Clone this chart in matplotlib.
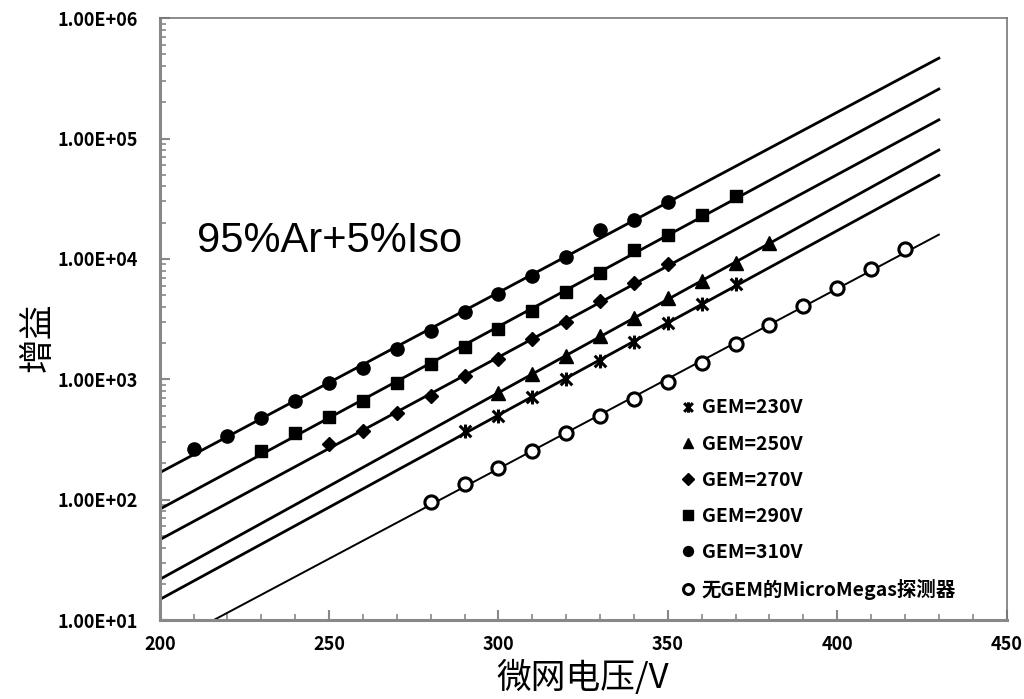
import numpy as np
import matplotlib.pyplot as plt
from matplotlib.path import Path
from matplotlib.ticker import FixedLocator, NullFormatter

plt.rcParams['font.family'] = ['Noto Sans CJK SC', 'DejaVu Sans']

# Gain vs. micromesh voltage, one series per GEM voltage
v_230 = [290, 300, 310, 320, 330, 340, 350, 360, 370]
g_230 = [370, 498, 716, 998, 1425, 2049, 2913, 4213, 6140]

v_250 = [300, 310, 320, 330, 340, 350, 360, 370, 380]
g_250 = [773, 1105, 1559, 2285, 3206, 4753, 6540, 9290, 13500]

v_270 = [250, 260, 270, 280, 290, 300, 310, 320, 330, 340, 350]
g_270 = [290, 373, 527, 730, 1063, 1463, 2145, 3003, 4487, 6255, 9000]

v_290 = [230, 240, 250, 260, 270, 280, 290, 300, 310, 320, 330, 340, 350, 360, 370]
g_290 = [253, 359, 482, 663, 935, 1330, 1862, 2626, 3706, 5330, 7570,
         11800, 15800, 23100, 33200]

v_310 = [210, 220, 230, 240, 250, 260, 270, 280, 290, 300, 310, 320, 330, 340, 350]
g_310 = [263, 337, 473, 663, 935, 1247, 1771, 2529, 3594, 5100, 7200,
         10300, 17300, 21000, 29800]

v_mm = [280, 290, 300, 310, 320, 330, 340, 350, 360, 370, 380, 390, 400, 410, 420]
g_mm = [96, 135, 182, 253, 356, 498, 681, 953, 1371, 1950, 2820, 4055,
        5720, 8230, 12000]

labels = ['GEM=230V', 'GEM=250V', 'GEM=270V', 'GEM=290V', 'GEM=310V',
          '无GEM的MicroMegas探测器']

# asterisk marker: X with a vertical bar
star = Path([(-1, -1), (1, 1), (-1, 1), (1, -1), (0, -1.2), (0, 1.2)],
            [Path.MOVETO, Path.LINETO, Path.MOVETO, Path.LINETO,
             Path.MOVETO, Path.LINETO])

series = [
    (v_230, g_230, dict(marker=star, ms=10, mew=2.2, color='black')),
    (v_250, g_250, dict(marker='^', ms=9.5, color='black')),
    (v_270, g_270, dict(marker='D', ms=7.5, color='black')),
    (v_290, g_290, dict(marker='s', ms=9, color='black')),
    (v_310, g_310, dict(marker='o', ms=9.5, color='black')),
    (v_mm, g_mm, dict(marker='o', ms=9.5, mfc='white', mec='black', mew=2.2)),
]

fig = plt.figure(figsize=(10.24, 6.99), dpi=100)
ax = fig.add_axes([0.156, 0.113, 0.827, 0.861])
ax.set_yscale('log')

x_fit = np.linspace(200, 430, 50)
handles = []
for (v, g, style), lab in zip(series, labels):
    # exponential trend line fitted in log space
    k, b = np.polyfit(v, np.log10(g), 1)
    lw = 1.4 if style.get('mfc') == 'white' else 2.0
    ax.plot(x_fit, 10 ** (k * x_fit + b), color='black', lw=lw, zorder=2)
    h, = ax.plot(v, g, ls='none', zorder=3, label=lab, **style)
    handles.append(h)

ax.set_xlim(200, 450)
ax.set_ylim(10, 1e6)

ax.set_xticks([200, 250, 300, 350, 400, 450])
ax.xaxis.set_minor_locator(FixedLocator(np.arange(200, 451, 10)))
ax.set_yticks([1e1, 1e2, 1e3, 1e4, 1e5, 1e6])
ax.set_yticklabels(['1.00E+01', '1.00E+02', '1.00E+03', '1.00E+04',
                    '1.00E+05', '1.00E+06'])
ax.yaxis.set_minor_formatter(NullFormatter())
for lbl in ax.get_xticklabels() + ax.get_yticklabels():
    lbl.set_fontweight('bold')
    lbl.set_fontsize(13)

ax.tick_params(axis='both', which='both', direction='in', colors='#888888',
               labelcolor='black')
ax.tick_params(axis='both', which='major', length=7, width=1.5)
ax.tick_params(axis='both', which='minor', length=4, width=1.2)
ax.tick_params(axis='y', which='both', pad=16)
ax.tick_params(axis='x', which='both', pad=11)

for side in ['left', 'bottom']:
    ax.spines[side].set_color('#888888')
    ax.spines[side].set_linewidth(2.2)
for side in ['top', 'right']:
    ax.spines[side].set_color('#777777')
    ax.spines[side].set_linewidth(1.2)

ax.set_xlabel('微网电压/V', fontsize=25)
ax.xaxis.set_label_coords(0.5, -0.068)
ax.set_ylabel('增益', fontsize=25)
ax.yaxis.set_label_coords(-0.123, 0.47)

ax.text(0.044, 0.63, '95%Ar+5%Iso', transform=ax.transAxes, fontsize=30,
        family=['Liberation Sans', 'DejaVu Sans'], va='center')

leg = fig.legend(handles=handles, loc='upper left',
                 bbox_to_anchor=(0.6665, 0.43), frameon=False,
                 prop=dict(weight='bold', size=14), handlelength=0.6,
                 handletextpad=0.4, labelspacing=0.88, markerscale=0.75,
                 borderpad=0, borderaxespad=0)

fig.savefig('out.png', dpi=100)
